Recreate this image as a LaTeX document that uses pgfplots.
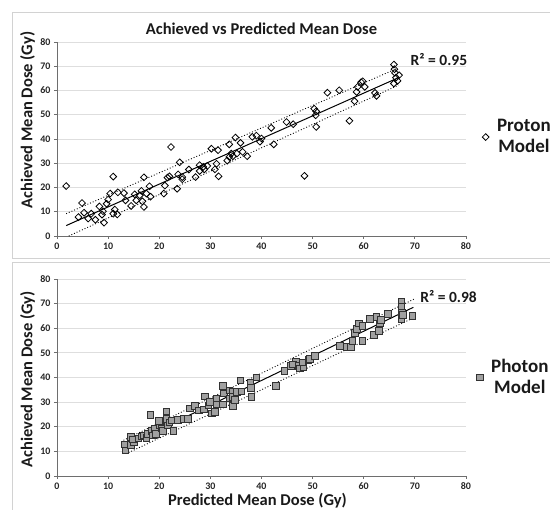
\documentclass[border=0pt]{standalone}
\usepackage{fontspec}
\setmainfont{Carlito}
\usepackage{pgfplots}
\pgfplotsset{compat=1.18}
\definecolor{axisgray}{RGB}{110,110,110}
\definecolor{gridgray}{RGB}{222,222,222}
\definecolor{framegray}{RGB}{210,210,210}
\definecolor{sqfill}{RGB}{160,160,160}
\definecolor{sqedge}{RGB}{50,50,50}

\pgfplotsset{
  panel/.style={
    scale only axis, width=409pt, anchor=south west,
    xmin=0, xmax=80, ymin=0, ymax=80,
    xtick={0,10,...,80}, ytick={0,10,...,80},
    axis x line*=bottom, axis y line*=left,
    axis line style={draw=axisgray, line width=0.8pt, -},
    tick style={draw=axisgray, line width=0.8pt},
    tick align=outside, major tick length=3pt,
    ymajorgrids, grid style={draw=gridgray, line width=0.8pt},
    /pgf/number format/assume math mode=true,
    tick label style={font=\fontsize{10}{11}\selectfont\bfseries, text=black!85},
    label style={font=\fontsize{16.5}{18}\selectfont\bfseries, text=black!90},
    clip=false,
    legend style={draw=none, fill=none, anchor=west,
      font=\fontsize{19}{21}\selectfont\bfseries,
      nodes={align=center, text=black!90},
      /tikz/every odd column/.append style={column sep=6pt}},
    legend image code/.code={\draw[#1] plot coordinates {(0pt,0pt)};},
  }
}

\begin{document}
\begin{tikzpicture}[x=1pt,y=1pt]
\useasboundingbox (0,0) rectangle (550,-510);
\draw[framegray, line width=0.8pt] (12.5,-12.5) rectangle (600,-258);
\draw[framegray, line width=0.8pt] (12.5,-262) rectangle (600,-600);

% Proton model
\begin{axis}[panel, at={(57pt,-236pt)}, height=194pt,
  title={Achieved vs Predicted Mean Dose},
  title style={font=\fontsize{16.5}{18}\selectfont\bfseries, text=black!90, at={(0.5,1)}, anchor=center, yshift=7pt},
  ylabel={Achieved Mean Dose (Gy)},
  ylabel style={at={(axis description cs:-0.072,0.598)}, anchor=center},
  legend style={at={(axis description cs:1.032,0.51)}}]
\addplot[only marks, mark=square, mark size=2.4pt, mark options={rotate=45, draw=black, fill=white, line width=0.8pt}] coordinates {
(1.8,20.6)(4.9,13.6)(4.2,7.8)(5.3,9.6)(6.1,7.2)(6.7,9.2)(7.5,6.7)(8.3,12.2)(9.0,10.2)(9.2,5.5)
(8.8,8.8)(9.7,13.3)(10.0,15.0)(10.4,17.5)(11.0,24.5)(11.3,10.9)(11.0,9.2)(11.8,8.9)(11.9,18.0)(13.1,17.7)
(13.4,14.7)(14.5,12.4)(15.2,17.2)(15.5,14.7)(16.2,16.8)(16.5,18.6)(16.7,14.3)(17.0,12.0)(17.0,24.2)(17.5,17.5)
(18.3,16.2)(18.1,20.5)(20.9,17.5)(21.1,20.8)(21.6,24.1)(22.0,24.6)(22.3,36.7)(23.5,19.5)(24.0,30.4)(23.7,25.4)
(24.5,23.4)(24.5,24.3)(25.8,27.4)(27.1,24.3)(27.9,26.8)(27.9,29.2)(28.6,28.5)(28.8,27.5)(29.4,28.9)(30.2,36.0)
(30.9,27.5)(31.2,29.8)(31.5,35.4)(31.6,24.6)(33.3,31.1)(33.7,37.8)(33.7,32.6)(34.1,34.0)(34.4,32.9)(34.9,40.6)
(35.2,34.0)(35.9,38.4)(36.3,34.7)(37.2,32.9)(38.2,40.9)(39.0,41.4)(40.0,40.2)(39.7,38.9)(41.9,44.6)(42.4,37.8)
(44.9,47.0)(46.2,46.1)(48.4,24.8)(50.3,52.5)(50.7,51.4)(50.6,49.8)(50.7,45.0)(52.9,59.1)(55.2,60.1)(57.2,47.5)
(58.2,55.6)(58.6,59.4)(58.8,61.5)(59.5,63.4)(59.8,63.8)(60.2,61.5)(62.2,59.0)(62.5,57.8)(65.9,70.7)(66.0,68.8)
(66.1,67.3)(66.3,65.3)(65.9,62.9)(66.6,64.0)(66.9,66.3)
};
\addlegendentry{Proton\\Model}
\addplot[forget plot, black, line width=1pt] coordinates {(1.8,4.3)(66.8,65.3)};
\addplot[forget plot, black, dotted, line width=0.9pt] coordinates {(1.8,9.2)(66.4,69.0)};
\addplot[forget plot, black, dotted, line width=0.9pt] coordinates {(2.3,0)(66.8,62.2)};
\node[anchor=west, font=\fontsize{15.5}{17}\selectfont\bfseries, text=black!90] at (axis cs:68.5,72.6) {R² = 0.95};
\end{axis}

% Photon model
\begin{axis}[panel, at={(57pt,-476pt)}, height=197pt,
  ylabel={Achieved Mean Dose (Gy)},
  ylabel style={at={(axis description cs:-0.072,0.49)}, anchor=center},
  xlabel={Predicted Mean Dose (Gy)},
  xlabel style={at={(axis description cs:0.49,0)}, anchor=center, yshift=-24.5pt},
  legend style={at={(axis description cs:1.018,0.5)}}]
\addplot[only marks, mark=square*, mark size=3.3pt, mark options={draw=sqedge, fill=sqfill, line width=0.8pt}] coordinates {
(13.4,10.7)(13.2,12.9)(14.4,12.7)(14.5,15.9)(15.0,13.8)(14.9,14.8)(15.9,15.2)(16.5,16.1)(17.0,16.5)(17.5,15.5)
(17.8,17.2)(18.5,18.2)(18.3,24.7)(18.8,16.5)(19.2,19.3)(19.4,17.2)(20.1,20.6)(20.4,19.3)(19.9,22.4)(20.7,18.3)
(21.4,26.3)(21.4,23.3)(21.7,20.6)(22.0,21.7)(22.4,22.6)(22.8,18.3)(23.7,22.9)(24.7,23.3)(25.6,23.3)(26.0,27.4)
(27.0,28.5)(27.8,26.7)(28.9,32.4)(28.7,27.1)(29.6,28.7)(29.9,30.1)(30.3,25.4)(30.9,26.0)(31.2,29.0)(31.2,31.5)
(32.4,36.6)(32.4,29.0)(32.6,33.5)(33.7,34.8)(33.8,31.5)(34.4,34.2)(34.3,32.1)(34.4,28.5)(34.8,30.8)(35.2,34.2)
(35.9,38.9)(36.1,34.4)(37.8,37.8)(37.9,35.8)(38.0,32.1)(39.0,40.0)(42.8,36.6)(44.5,42.6)(45.8,44.6)(46.7,46.6)
(46.2,45.4)(47.3,44.7)(47.5,43.7)(48.2,44.1)(48.0,46.1)(49.2,47.1)(49.5,47.5)(50.5,48.8)(55.3,52.9)(56.7,52.5)
(57.5,52.5)(57.8,54.8)(58.3,58.2)(58.7,59.7)(59.1,62.0)(59.7,60.9)(59.7,54.9)(61.2,63.7)(62.0,57.2)(62.5,64.7)
(63.0,59.0)(63.2,62.0)(63.4,63.3)(64.7,65.8)(67.4,70.8)(67.4,68.7)(67.5,66.4)(67.4,63.7)(67.7,65.4)(69.5,64.9)
};
\addlegendentry{Photon\\Model}
\addplot[forget plot, black, line width=1pt] coordinates {(13.0,11.8)(69.7,68.5)};
\addplot[forget plot, black, dotted, line width=0.9pt] coordinates {(13.0,14.5)(70.0,72.0)};
\addplot[forget plot, black, dotted, line width=0.9pt] coordinates {(14.0,9.5)(69.5,64.0)};
\node[anchor=west, font=\fontsize{15.5}{17}\selectfont\bfseries, text=black!90] at (axis cs:70.4,72.8) {R² = 0.98};
\end{axis}
\end{tikzpicture}
\end{document}
